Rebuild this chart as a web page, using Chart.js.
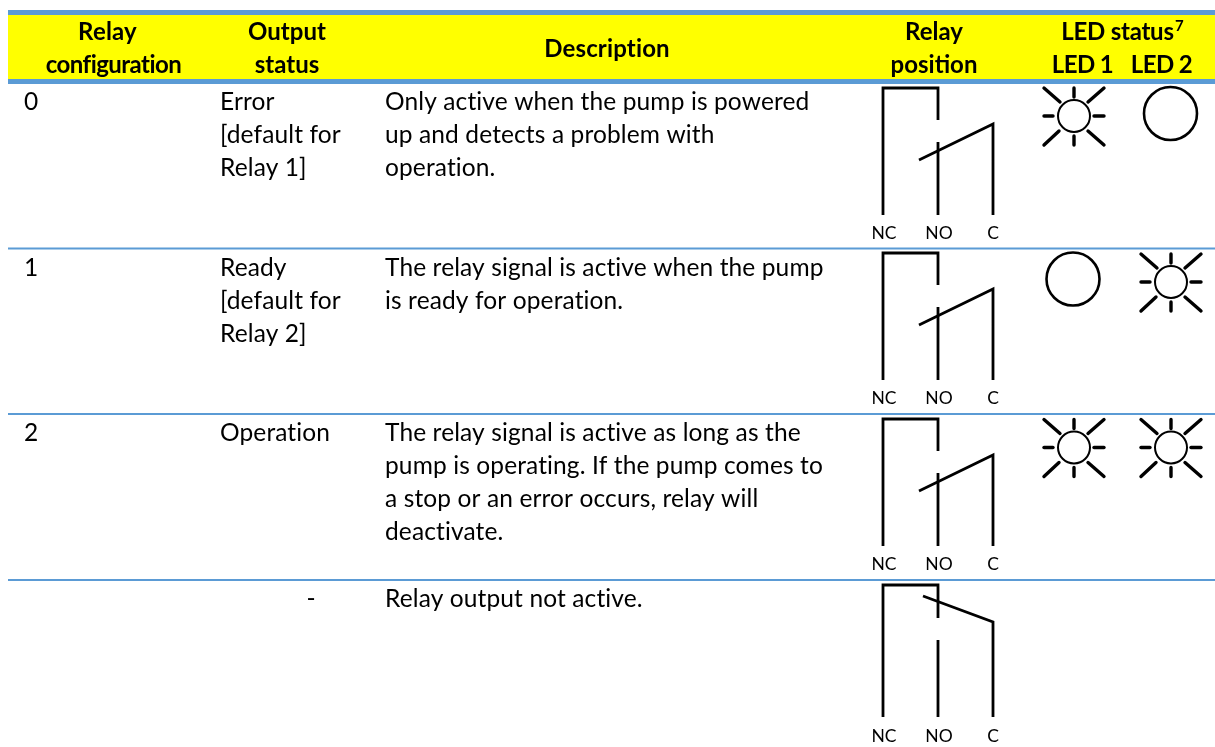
<!DOCTYPE html>
<html><head><meta charset="utf-8">
<style>html,body{margin:0;padding:0;background:#fff}canvas{display:block}</style>
<script src="https://cdn.jsdelivr.net/npm/chart.js@4"></script>
</head><body><canvas id="c" width="1215" height="747"></canvas>
<script>
const headers = ["Relay","configuration","Output","status","Description","Relay","position","LED status","7","LED 1","LED 2"];
const configValues = ["0","1","2",""];
const outputStatus = [["Error","[default for","Relay 1]"],["Ready","[default for","Relay 2]"],["Operation"],["-"]];
const descriptions = [
 ["Only active when the pump is powered","up and detects a problem with","operation."],
 ["The relay signal is active when the pump","is ready for operation."],
 ["The relay signal is active as long as the","pump is operating. If the pump comes to","a stop or an error occurs, relay will","deactivate."],
 ["Relay output not active."]];
const terminals = ["NC","NO","C"];
const led1On = [true,false,true,null];
const led2On = [false,true,true,null];

const ruleY = [248.5,414,580];
const rowTextBase = [110,276,441,607];
const rowDiagram = [0,165,331];
const energised = [
 [[883,215],[883,88],[938,88],[938,120]],
 [[938,142],[938,215]],
 [[919,160],[993,124],[993,215]]];
const released = [
 [[883,717],[883,585],[938,585],[938,618]],
 [[938,640],[938,717]],
 [[923,596],[993,622],[993,717]]];
const rays = [[[0,-28],[0,-19]],[[0,20],[0,29]],[[-30,0],[-21,0]],[[20,0],[30,0]],
 [[-30,-28],[-14,-14]],[[30,-28],[14,-14]],[[-30,29],[-15,15]],[[30,29],[14,15]]];
const ledRowY = [116,282,447.5];
const ledX = [1074,1171];
const ringRowY = [113.5,279];
const ringX = [1073,1170.5];

const ds = [];
const line = (pts,w,color,cap)=>ds.push({type:'line',data:pts.map(p=>({x:p[0],y:p[1]})),borderColor:color,borderWidth:w,
  pointRadius:0,tension:0,fill:false,clip:false,borderCapStyle:cap||'butt',borderJoinStyle:'miter'});
line([[8,47],[1215,47]],64,'#FFFF00');
line([[8,12.5],[1215,12.5]],5,'#5B9BD5');
line([[8,81.5],[1215,81.5]],5,'#5B9BD5');
ruleY.forEach(y=>line([[8,y],[1215,y]],2.2,'#5B9BD5'));
rowDiagram.forEach(dy=>energised.forEach(p=>line(p.map(q=>[q[0],q[1]+dy]),2.8,'#000')));
released.forEach(p=>line(p,2.8,'#000'));
const sun=(x,y)=>{rays.forEach(r=>line(r.map(q=>[q[0]+x,q[1]+y]),3.4,'#000','round'));
  ds.push({type:'scatter',data:[{x,y}],pointRadius:16,pointBorderWidth:2,pointBorderColor:'#000',pointBackgroundColor:'rgba(0,0,0,0)',clip:false});};
const ring=(x,y)=>ds.push({type:'scatter',data:[{x,y}],pointRadius:26.5,pointBorderWidth:2.6,pointBorderColor:'#000',pointBackgroundColor:'rgba(0,0,0,0)',clip:false});
[led1On,led2On].forEach((col,i)=>col.forEach((on,r)=>{ if(on===null)return;
  if(on) sun(ledX[i],ledRowY[r]); else ring(ringX[i],ringRowY[r]); }));

const BODY='24.5px Lato, Carlito, sans-serif', BOLD='bold 24px Lato, Carlito, sans-serif';
const textPlugin={id:'tableText',afterDraw(ch){
  const c=ch.ctx;c.save();c.fillStyle='#000';c.textBaseline='alphabetic';
  const t=(s,x,y,f,a,sp)=>{c.font=f;c.textAlign=a||'left';c.letterSpacing=sp||'0px';c.fillText(s,x,y);};
  const hp=[[107.5,40],[113.5,73],[287,40],[287,73],[607,57],[934,40],[934,73],[1117.5,40]];
  const hs=['0.2px','-0.55px','0px','0px','0.15px','0px','0px','-0.25px'];
  hp.forEach((p,i)=>t(headers[i],p[0],p[1],BOLD,'center',hs[i]));
  t(headers[8],1175,31,'bold 15px Lato, Carlito, sans-serif','left');
  t(headers[9],1082.5,73,BOLD,'center','-0.6px');t(headers[10],1161.5,73,BOLD,'center','-0.6px');
  rowTextBase.forEach((b,r)=>{
    t(configValues[r],24,b,BODY,'left','0.12px');
    outputStatus[r].forEach((s,i)=>{ if(r===3) t(s,311,b,BODY,'center'); else t(s,220,b+i*33,BODY,'left','0.12px'); });
    descriptions[r].forEach((s,i)=>t(s,385,b+i*33,BODY,'left','0.12px'));
  });
  const termX=[884,939,993], termBase=[238.5,404,569.5,741.5];
  termBase.forEach(y=>terminals.forEach((s,i)=>t(s,termX[i],y,'400 17.5px Lato, Carlito, sans-serif','center')));
  c.restore();
}};

new Chart(document.getElementById('c'),{
  data:{datasets:ds},
  plugins:[textPlugin],
  options:{responsive:false,animation:false,events:[],layout:{padding:0,autoPadding:false},
   plugins:{legend:{display:false},tooltip:{enabled:false},title:{display:false}},
   scales:{x:{type:'linear',min:0,max:1215,display:false},y:{type:'linear',min:0,max:747,reverse:true,display:false}}}
});
</script></body></html>
